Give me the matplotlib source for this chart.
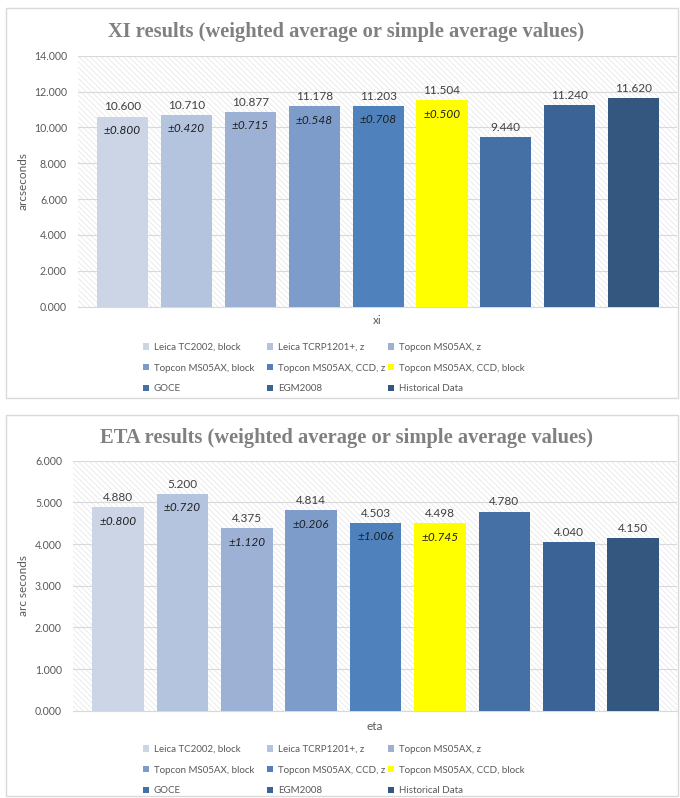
import matplotlib.pyplot as plt
from matplotlib.patches import Patch, Rectangle

plt.rcParams['font.family'] = ['Lato', 'DejaVu Sans']
plt.rcParams['hatch.linewidth'] = 0.35

series = ["Leica TC2002, block", "Leica TCRP1201+, z", "Topcon MS05AX, z",
          "Topcon MS05AX, block", "Topcon MS05AX, CCD, z", "Topcon MS05AX, CCD, block",
          "GOCE", "EGM2008", "Historical Data"]
colors = ["#CBD5E6", "#B4C3DE", "#9DB1D4", "#7E9CC9", "#4F81BD", "#FFFF00",
          "#4570A5", "#3C6395", "#34577F"]

xi = [10.600, 10.710, 10.877, 11.178, 11.203, 11.504, 9.440, 11.240, 11.620]
xi_err = [0.800, 0.420, 0.715, 0.548, 0.708, 0.500, None, None, None]

eta = [4.880, 5.200, 4.375, 4.814, 4.503, 4.498, 4.780, 4.040, 4.150]
eta_err = [0.800, 0.720, 1.120, 0.206, 1.006, 0.745, None, None, None]

fig = plt.figure(figsize=(6.8, 7.98), dpi=100)

# panel frames
for y0, h in [(1 - 398/798, 390/798), (1 - 796/798, 381/798)]:
    fig.add_artist(Rectangle((6/680, y0), 672/680, h, transform=fig.transFigure,
                             fill=False, edgecolor="#D9D9D9", linewidth=1))

legend_cols = [143, 267, 388]


def panel(rect, vals, errs, ymax, step, title, xlabel, ylabel, title_y, xlab_y, leg_y):
    ax = fig.add_axes(rect)
    ax.add_patch(Rectangle((0, 0), 1, 1, transform=ax.transAxes, facecolor="white",
                           edgecolor="#DADADA", hatch="\\" * 6, linewidth=0, zorder=0))
    pos = list(range(len(vals)))
    bars = ax.bar(pos, vals, width=0.8, color=colors, zorder=3)
    ax.bar_label(bars, labels=["%.3f" % v for v in vals], padding=3,
                 fontsize=8.5, color="#404040")
    for p, v, e in zip(pos, vals, errs):
        if e is not None:
            ax.annotate("\u00b1%.3f" % e, (p, v), xytext=(0, -10), textcoords="offset points",
                        ha="center", va="center", fontsize=8.5, style="italic", color="#1F1F1F",
                        zorder=4)
    ax.set_xlim(-0.70, 8.68)
    ax.set_ylim(0, ymax)
    ticks = [i * step for i in range(int(round(ymax / step)) + 1)]
    ax.set_yticks(ticks)
    ax.set_yticklabels(["%.3f" % t for t in ticks], fontsize=7.6, color="#595959")
    ax.set_xticks([])
    ax.tick_params(axis="y", length=0, pad=8)
    ax.grid(axis="y", color="#D9D9D9", linewidth=0.8, zorder=1)
    ax.set_axisbelow(True)
    for s in ["top", "right", "left"]:
        ax.spines[s].set_visible(False)
    ax.spines["bottom"].set_color("#D9D9D9")
    ax.set_ylabel(ylabel, fontsize=8.5, color="#595959", labelpad=4)
    cx = (rect[0] + rect[0] + rect[2]) / 2
    fig.text(346/680, title_y, title, ha="center", va="center", fontsize=14.8,
             fontweight="bold", color="#808080", family="Liberation Serif")
    fig.text(cx, xlab_y, xlabel, ha="center", va="center", fontsize=8.5, color="#595959")

    # legend: three entries per row, one column legend per column
    for c, lx in enumerate(legend_cols):
        idx = [c, c + 3, c + 6]
        leg = fig.legend([Patch(facecolor=colors[i]) for i in idx], [series[i] for i in idx],
                         loc="upper left", bbox_to_anchor=(lx/680, leg_y), ncol=1,
                         frameon=False, fontsize=7.0, handlelength=0.65, handleheight=0.65,
                         handletextpad=0.45, labelspacing=1.2,
                         borderpad=0, borderaxespad=0)
        for t in leg.get_texts():
            t.set_color("#595959")
    return ax


panel([78/680, 1 - 306.7/798, 599/680, 251/798], xi, xi_err, 14, 2,
      "XI results (weighted average or simple average values)", "xi", "arcseconds",
      1 - 32/798, 1 - 321/798, 1 - 343/798)
panel([73/680, 1 - 710.7/798, 604/680, 250/798], eta, eta_err, 6, 1,
      "ETA results (weighted average or simple average values)", "eta", "arc seconds",
      1 - 438/798, 1 - 727/798, 1 - 745/798)

fig.savefig("out.png", dpi=100)
